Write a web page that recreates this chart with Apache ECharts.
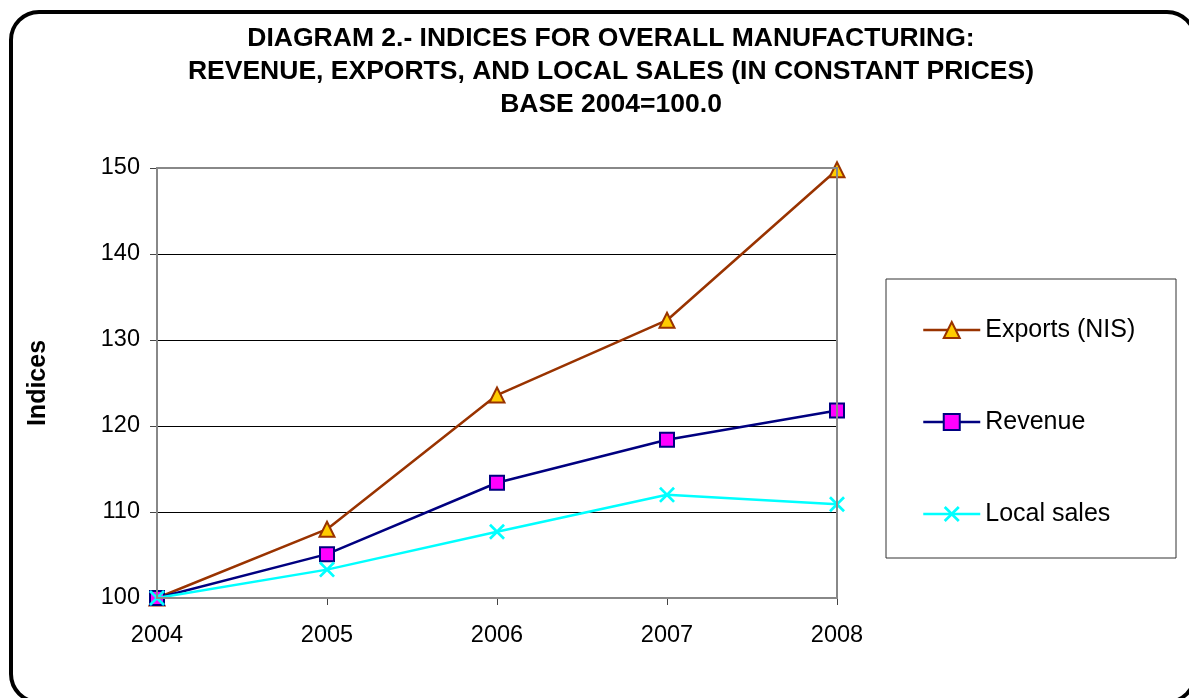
<!DOCTYPE html>
<html>
<head>
<meta charset="utf-8">
<script src="https://cdn.jsdelivr.net/npm/echarts@6/dist/echarts.min.js"></script>
<style>
html,body{margin:0;padding:0;background:#fff;width:1189px;height:698px;overflow:hidden;}
#frame{position:absolute;left:9px;top:10px;width:1180px;height:686px;border:4.5px solid #000;border-radius:30px;}
#chart{position:absolute;left:0;top:0;width:1189px;height:698px;}
</style>
</head>
<body>
<div id="frame"></div>
<div id="chart"></div>
<script>
const years = ['2004', '2005', '2006', '2007', '2008'];
const exportsNIS = [100, 108.0, 123.6, 132.3, 149.8];
const revenue = [100, 105.1, 113.4, 118.4, 121.8];
const localSales = [100, 103.3, 107.7, 112.0, 110.9];
const seriesNames = ['Exports (NIS)', 'Revenue', 'Local sales'];
const titleText = 'DIAGRAM 2.- INDICES FOR OVERALL MANUFACTURING:\nREVENUE, EXPORTS, AND LOCAL SALES (IN CONSTANT PRICES)\nBASE 2004=100.0';

const font = 'Arial, "Liberation Sans", sans-serif';
const xPath = 'path://M0,1.2L1.2,0L5,3.8L8.8,0L10,1.2L6.2,5L10,8.8L8.8,10L5,6.2L1.2,10L0,8.8L3.8,5Z';

const chart = echarts.init(document.getElementById('chart'));
chart.setOption({
  animation: false,
  backgroundColor: 'transparent',
  textStyle: { fontFamily: font },
  title: {
    text: titleText,
    left: 606,
    top: 17,
    textAlign: 'center',
    textStyle: { fontFamily: font, fontSize: 26.5, fontWeight: 'bold', color: '#000', lineHeight: 33 }
  },
  grid: {
    left: 157, right: 352, top: 168, bottom: 100,
    show: true, borderColor: '#888', borderWidth: 2, z: 5
  },
  graphic: [{
    type: 'rect',
    shape: { x: 886, y: 279, width: 290, height: 279 },
    style: { fill: '#fff', stroke: '#333', lineWidth: 1 },
    z: -1
  }],
  legend: {
    orient: 'vertical',
    left: 917,
    top: 312,
    itemWidth: 57,
    itemHeight: 20,
    itemGap: 66,
    data: seriesNames,
    lineStyle: { width: 2.5 },
    textStyle: { fontFamily: font, fontSize: 25, color: '#000', lineHeight: 26 }
  },
  xAxis: {
    type: 'category',
    data: years,
    boundaryGap: false,
    axisLine: { lineStyle: { color: '#444', width: 2 } },
    axisTick: { show: true, length: 7, lineStyle: { color: '#444', width: 1 } },
    axisLabel: { fontFamily: font, fontSize: 23.5, color: '#000', margin: 26 },
    splitLine: { show: false }
  },
  yAxis: {
    type: 'value',
    min: 100, max: 150, interval: 10,
    name: 'Indices',
    nameLocation: 'middle',
    nameRotate: 90,
    nameGap: 106,
    nameTextStyle: { fontFamily: font, fontSize: 25, fontWeight: 'bold', color: '#000' },
    axisLine: { show: true, lineStyle: { color: '#444', width: 2 } },
    axisTick: { show: true, length: 7, lineStyle: { color: '#444', width: 1 } },
    axisLabel: { fontFamily: font, fontSize: 23.5, color: '#000', margin: 17 },
    splitLine: { show: true, lineStyle: { color: '#000', width: 1 } }
  },
  series: [
    {
      name: seriesNames[0], type: 'line', data: exportsNIS,
      symbol: 'triangle', symbolSize: 15,
      lineStyle: { color: '#993300', width: 2.5 },
      itemStyle: { color: '#FFCC00', borderColor: '#993300', borderWidth: 2 },
      z: 2
    },
    {
      name: seriesNames[1], type: 'line', data: revenue,
      symbol: 'rect', symbolSize: 14,
      lineStyle: { color: '#000080', width: 2.5 },
      itemStyle: { color: '#FF00FF', borderColor: '#000080', borderWidth: 2 },
      z: 3
    },
    {
      name: seriesNames[2], type: 'line', data: localSales,
      symbol: xPath, symbolSize: 16,
      lineStyle: { color: '#00FFFF', width: 2.5 },
      itemStyle: { color: '#00FFFF', borderWidth: 0 },
      z: 4
    }
  ]
});
</script>
</body>
</html>
